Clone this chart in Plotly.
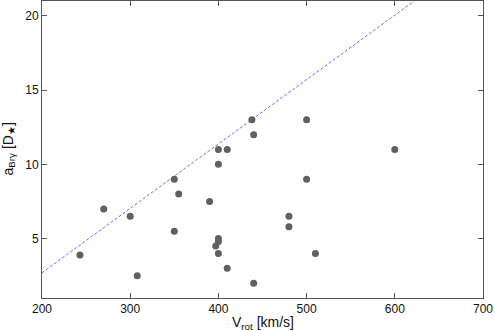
import plotly.graph_objects as go

# rotation velocity vs Br-gamma emitting region size
v_rot = [243, 270, 300, 308, 350, 350, 355, 390, 400, 410, 400, 400, 400, 397,
         400, 410, 438, 440, 500, 600, 500, 480, 480, 510, 440]
a_brg = [3.9, 7.0, 6.5, 2.5, 9.0, 5.5, 8.0, 7.5, 11.0, 11.0, 10.0, 5.0, 4.8, 4.5,
         4.0, 3.0, 13.0, 12.0, 13.0, 11.0, 9.0, 6.5, 5.8, 4.0, 2.0]

# dashed reference line (two end points)
line_x = [200, 622]
line_y = [2.7, 21.0]

fig = go.Figure()

fig.add_trace(go.Scatter(
    x=line_x, y=line_y, mode="lines",
    line=dict(color="#6b6bff", width=1, dash="3px,2px"),
    hoverinfo="skip", showlegend=False,
))

fig.add_trace(go.Scatter(
    x=v_rot, y=a_brg, mode="markers",
    marker=dict(color="#606060", size=7, line=dict(width=0)),
    showlegend=False,
))

font = dict(family="Liberation Sans, Arial", size=12, color="#111111")

axis_style = dict(
    showgrid=False, zeroline=False, automargin=False,
    showline=True, linecolor="#555555", linewidth=1, mirror="allticks",
    ticks="inside", ticklen=5, tickcolor="#555555",
    tickfont=font,
)

fig.update_layout(
    width=495, height=331,
    margin=dict(l=42, r=12, t=1, b=33, autoexpand=False),
    plot_bgcolor="white", paper_bgcolor="white",
    xaxis=dict(range=[200, 700], dtick=100, **axis_style),
    yaxis=dict(range=[1, 21], dtick=5, **axis_style),
    # axis titles placed by hand so the margins stay as in the original
    annotations=[
        dict(text="V<sub>rot</sub> [km/s]", x=0.5, y=0, xref="paper", yref="paper",
             yanchor="top", yshift=-14, showarrow=False, font=dict(font, size=14)),
        dict(text="a<sub>Brγ</sub> [D<sub>★</sub>]", x=0, y=0.5, xref="paper", yref="paper",
             xanchor="right", xshift=-23, textangle=-90, showarrow=False,
             font=dict(font, size=14)),
    ],
)

# drop the default 8px page margin so the figure fills the window
fig.write_html("out.html", config={"displayModeBar": False},
               post_script="document.body.style.margin='0';")
